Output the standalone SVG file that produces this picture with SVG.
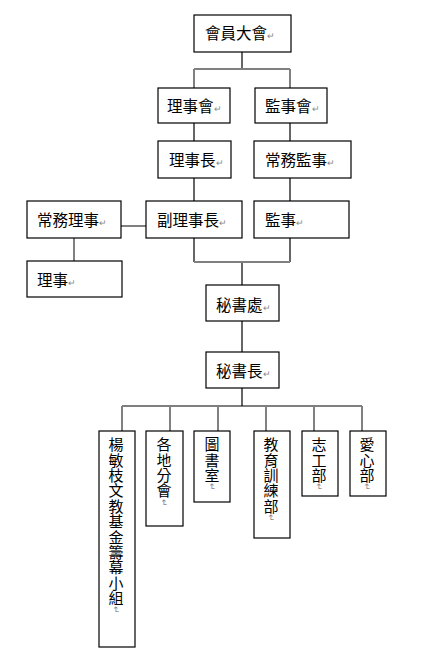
<svg xmlns="http://www.w3.org/2000/svg" width="426" height="657" viewBox="0 0 426 657">
<style>
.box{fill:#fff;stroke:#000;stroke-width:1.2}
.t{font-family:"Noto Sans CJK TC","Noto Sans CJK SC",sans-serif;font-size:15.5px;fill:#000}
.v{font-family:"Noto Sans CJK TC","Noto Sans CJK SC",sans-serif;font-size:15px;fill:#000;writing-mode:vertical-rl;letter-spacing:0.4px}
.pm{fill:#888;font-size:9px}
.blk{stroke:#000;stroke-width:1.2;fill:none}
.gry{stroke:#808080;stroke-width:2;fill:none}
</style>
<rect width="426" height="657" fill="#fff"/>
<g id="connectors">
<path class="blk" d="M242 52V69"/>
<path class="gry" d="M194 69H290M194 69V88M290 69V88"/>
<path class="blk" d="M194 123V141M290 123V141M194 178V201M290 178V201"/>
<path class="gry" d="M121 226H146M74 238V261"/>
<path class="blk" d="M194 238V262M290 238V262M242 262V285"/>
<path class="gry" d="M194 262H290"/>
<path class="blk" d="M242 321V352M242 388V406M122 406H362"/>
<path class="gry" d="M122 406V431M170 406V431M218 406V431M266 406V431M314 406V431M362 406V431"/>
</g>
<g id="n1"><rect class="box" x="194" y="15" width="97" height="37"/><text class="t" x="205" y="39">會員大會<tspan class="pm">↵</tspan></text></g>
<g id="n2"><rect class="box" x="158" y="88" width="72" height="35"/><text class="t" x="167" y="112">理事會<tspan class="pm">↵</tspan></text></g>
<g id="n3"><rect class="box" x="255" y="88" width="72" height="35"/><text class="t" x="265" y="112">監事會<tspan class="pm">↵</tspan></text></g>
<g id="n4"><rect class="box" x="158" y="141" width="73" height="37"/><text class="t" x="169" y="166">理事長<tspan class="pm">↵</tspan></text></g>
<g id="n5"><rect class="box" x="254" y="141" width="97" height="37"/><text class="t" x="265" y="166">常務監事<tspan class="pm">↵</tspan></text></g>
<g id="n6"><rect class="box" x="27" y="201" width="94" height="37"/><text class="t" x="37" y="226">常務理事<tspan class="pm">↵</tspan></text></g>
<g id="n7"><rect class="box" x="146" y="201" width="96" height="37"/><text class="t" x="157" y="226">副理事長<tspan class="pm">↵</tspan></text></g>
<g id="n8"><rect class="box" x="254" y="201" width="95" height="37"/><text class="t" x="265" y="226">監事<tspan class="pm">↵</tspan></text></g>
<g id="n9"><rect class="box" x="27" y="261" width="95" height="36"/><text class="t" x="37" y="286">理事<tspan class="pm">↵</tspan></text></g>
<g id="n10"><rect class="box" x="206" y="285" width="73" height="36"/><text class="t" x="216" y="311">秘書處<tspan class="pm">↵</tspan></text></g>
<g id="n11"><rect class="box" x="206" y="352" width="73" height="36"/><text class="t" x="216" y="377">秘書長<tspan class="pm">↵</tspan></text></g>
<g id="n12"><rect class="box" x="99" y="431" width="36" height="216"/><text class="v" x="116" y="437">楊敏枝文教基金籌幕小組<tspan class="pm">↵</tspan></text></g>
<g id="n13"><rect class="box" x="146" y="431" width="37" height="95"/><text class="v" x="164" y="437">各地分會<tspan class="pm">↵</tspan></text></g>
<g id="n14"><rect class="box" x="194" y="431" width="36" height="71"/><text class="v" x="212" y="437">圖書室<tspan class="pm">↵</tspan></text></g>
<g id="n15"><rect class="box" x="254" y="431" width="36" height="107"/><text class="v" x="271" y="437">教育訓練部<tspan class="pm">↵</tspan></text></g>
<g id="n16"><rect class="box" x="302" y="431" width="36" height="65"/><text class="v" x="319" y="437">志工部<tspan class="pm">↵</tspan></text></g>
<g id="n17"><rect class="box" x="350" y="431" width="36" height="65"/><text class="v" x="367" y="437">愛心部<tspan class="pm">↵</tspan></text></g>
</svg>
